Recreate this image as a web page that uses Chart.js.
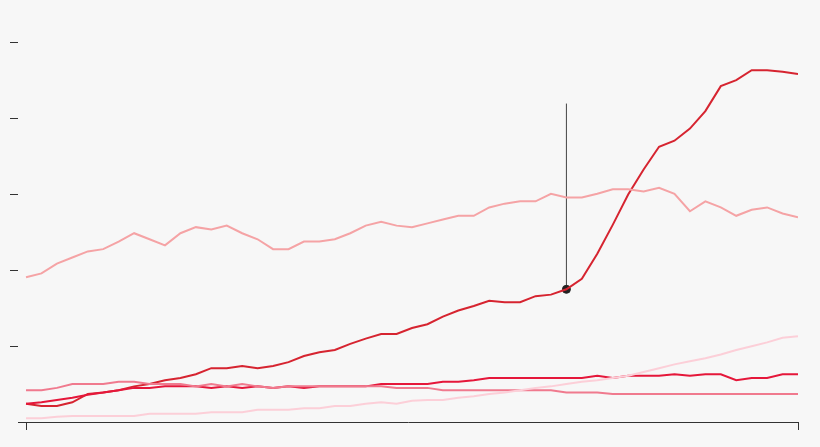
<!DOCTYPE html>
<html><head><meta charset="utf-8">
<script src="https://cdn.jsdelivr.net/npm/chart.js@4"></script>
<style>html,body{margin:0;background:#f7f7f7}#w{width:820px;height:447px}</style></head>
<body><div id="w"><canvas id="c"></canvas></div>
<script>
const darkRed=[.24,.21,.21,.26,.37,.39,.42,.47,.5,.55,.58,.63,.71,.71,.74,.71,.74,.79,.87,.92,.95,1.03,1.1,1.16,1.16,1.24,1.29,1.39,1.47,1.53,1.6,1.58,1.58,1.66,1.68,1.75,1.89,2.22,2.6,3.0,3.33,3.63,3.71,3.87,4.1,4.43,4.51,4.64,4.64,4.62,4.59];
const salmon=[1.91,1.96,2.09,2.17,2.25,2.28,2.38,2.49,2.41,2.33,2.49,2.57,2.54,2.59,2.49,2.41,2.28,2.28,2.38,2.38,2.41,2.49,2.59,2.64,2.59,2.57,2.62,2.67,2.72,2.72,2.83,2.88,2.91,2.91,3.01,2.96,2.96,3.01,3.07,3.07,3.04,3.09,3.01,2.78,2.91,2.83,2.72,2.8,2.83,2.75,2.7];
const red=[.24,.26,.29,.32,.36,.39,.42,.45,.45,.47,.47,.47,.45,.47,.45,.47,.45,.47,.45,.47,.47,.47,.47,.5,.5,.5,.5,.53,.53,.55,.58,.58,.58,.58,.58,.58,.58,.61,.58,.61,.61,.61,.63,.61,.63,.63,.55,.58,.58,.63,.63];
const pink=[.42,.42,.45,.5,.5,.5,.53,.53,.5,.5,.5,.47,.5,.47,.5,.47,.45,.47,.47,.47,.47,.47,.47,.47,.45,.45,.45,.42,.42,.42,.42,.42,.42,.42,.42,.39,.39,.39,.37,.37,.37,.37,.37,.37,.37,.37,.37,.37,.37,.37,.37];
const pale=[.05,.05,.07,.08,.08,.08,.08,.08,.11,.11,.11,.11,.13,.13,.13,.16,.16,.16,.18,.18,.21,.21,.24,.26,.24,.28,.29,.29,.32,.34,.37,.39,.42,.45,.47,.5,.53,.55,.58,.61,.66,.71,.76,.8,.84,.89,.95,1.0,1.05,1.11,1.13];
const xTicks=[0,50];
const yTicks=[1,2,3,4,5];
const hl=35, hlTop=4.2;
const pts=a=>a.map((v,i)=>({x:i,y:v}));
const ds=(d,c,w)=>({data:pts(d),borderColor:c,borderWidth:w||2,pointRadius:0,fill:false,tension:0});
new Chart(document.getElementById('c'),{type:'line',
data:{datasets:[
 ds(pale,'#fccfd8'),ds(pink,'#f07a8e'),ds(red,'#e5173a'),ds(salmon,'#f5a3a5'),ds(darkRed,'#d62430'),
 {data:[{x:hl,y:darkRed[hl]},{x:hl,y:hlTop}],borderColor:'#444',borderWidth:1,pointRadius:[4,0],pointBackgroundColor:'#222',pointBorderColor:'#222'}
]},
options:{responsive:true,maintainAspectRatio:false,animation:false,
 layout:{padding:{top:5,right:22,left:0,bottom:17}},
 plugins:{legend:{display:false},tooltip:{enabled:false}},
 scales:{
  x:{type:'linear',min:-0.52,max:50,afterBuildTicks:s=>{s.ticks=xTicks.map(v=>({value:v}))},ticks:{display:false},grid:{drawOnChartArea:false,tickLength:8,color:'#333'},border:{color:'#333'}},
  y:{min:0,max:5.5,afterBuildTicks:s=>{s.ticks=yTicks.map(v=>({value:v}))},afterFit:s=>{s.width=18},ticks:{display:false},grid:{drawOnChartArea:false,tickLength:8,color:'#333'},border:{display:false}}
 }}});
</script></body></html>
